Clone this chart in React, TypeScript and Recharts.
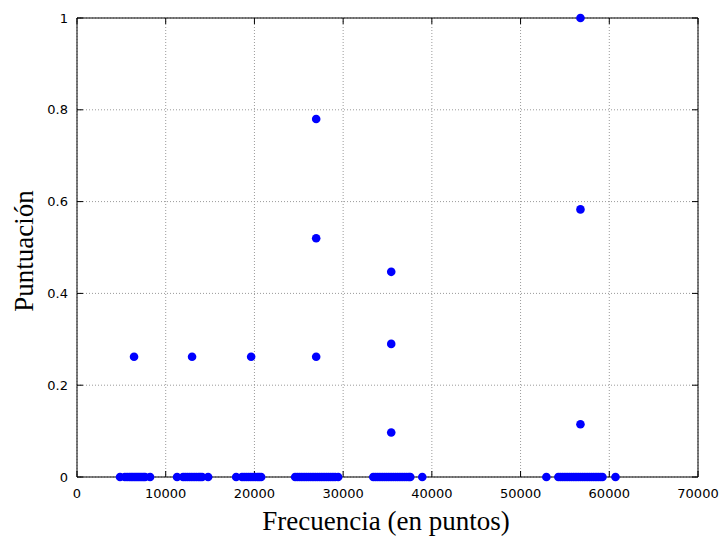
import React from "react";
import { ScatterChart, Scatter, XAxis, YAxis, CartesianGrid } from "recharts";

// frequencies (in points) whose score is 0, grouped by cluster
const zeroCluster1: number[] = [4850, 5400, 5650, 5900, 6100, 6300, 6500, 6700, 6900, 7100, 7300, 7500, 7670, 8240];
const zeroCluster2: number[] = [11280, 11960, 12200, 12450, 12700, 12950, 13200, 13450, 13700, 13900, 14100, 14780];
const zeroCluster3: number[] = [17940, 18600, 18850, 19100, 19350, 19600, 19850, 20100, 20350, 20550, 20760];
const zeroCluster4: number[] = [
  24590, 24850, 25100, 25350, 25600, 25850, 26100, 26350, 26600, 26850, 27100, 27350, 27600, 27850, 28100,
  28350, 28600, 28850, 29100, 29440,
];
const zeroCluster5: number[] = [
  33400, 33650, 33900, 34150, 34400, 34650, 34900, 35150, 35400, 35650, 35900, 36150, 36400, 36650, 36900,
  37150, 37400, 37570, 38920,
];
const zeroCluster6: number[] = [
  52910, 54260, 54500, 54750, 55000, 55250, 55500, 55750, 56000, 56250, 56500, 56750, 57000, 57250, 57500,
  57750, 58000, 58250, 58500, 58750, 59000, 59230, 60700,
];

// points with a non-zero score
const scoredFreq: number[] = [6430, 12970, 19630, 26960, 26960, 26960, 35420, 35420, 35420, 56750, 56750, 56750];
const scoredValue: number[] = [0.262, 0.262, 0.262, 0.78, 0.52, 0.262, 0.447, 0.29, 0.097, 1, 0.583, 0.115];

const xTicks: number[] = [0, 10000, 20000, 30000, 40000, 50000, 60000, 70000];
const yTicks: number[] = [0, 0.2, 0.4, 0.6, 0.8, 1];

const xTitle = "Frecuencia (en puntos)";
const yTitle = "Puntuación";

const zeroFreqs = [
  ...zeroCluster1,
  ...zeroCluster2,
  ...zeroCluster3,
  ...zeroCluster4,
  ...zeroCluster5,
  ...zeroCluster6,
];

const data = [
  ...zeroFreqs.map((f) => ({ freq: f, score: 0 })),
  ...scoredFreq.map((f, i) => ({ freq: f, score: scoredValue[i] })),
];

const tickFont = { fontFamily: "DejaVu Sans", fontSize: 13, fill: "#000" };
const titleFont = "Liberation Serif";

const Dot = (props: any) => <circle cx={props.cx} cy={props.cy} r={4.3} fill="#0000ff" />;
const Nothing = () => <g />;

const App: React.FC = () => {
  return (
    <div style={{ position: "absolute", left: 0, top: 0, width: 724, height: 537, background: "#fff" }}>
      <ScatterChart width={724} height={537} margin={{ top: 16, right: 24, bottom: 0, left: 17 }}>
        <CartesianGrid
          xAxisId="bottom"
          yAxisId="left"
          stroke="#9a9a9a"
          strokeDasharray="1 2"
          horizontalValues={yTicks}
          verticalValues={xTicks}
        />
        <XAxis
          xAxisId="bottom"
          type="number"
          dataKey="freq"
          domain={[0, 70000]}
          ticks={xTicks}
          height={60}
          stroke="#000"
          tickSize={-6}
          tickMargin={18}
          tick={tickFont}
          label={{
            content: () => (
              <text x={386} y={530} textAnchor="middle" fontFamily={titleFont} fontSize={27} fill="#000">
                {xTitle}
              </text>
            ),
          }}
        />
        <XAxis
          xAxisId="top"
          orientation="top"
          type="number"
          dataKey="freq"
          domain={[0, 70000]}
          ticks={xTicks}
          height={2}
          stroke="#000"
          tickSize={-6}
          tickMargin={0}
          tick={Nothing}
        />
        <YAxis
          yAxisId="left"
          type="number"
          dataKey="score"
          domain={[0, 1]}
          ticks={yTicks}
          width={60}
          stroke="#000"
          tickSize={-6}
          tickMargin={15}
          tick={tickFont}
          label={{
            content: () => (
              <text
                x={33}
                y={251}
                textAnchor="middle"
                fontFamily={titleFont}
                fontSize={27}
                fill="#000"
                transform="rotate(-90 33 251)"
              >
                {yTitle}
              </text>
            ),
          }}
        />
        <YAxis
          yAxisId="right"
          orientation="right"
          type="number"
          dataKey="score"
          domain={[0, 1]}
          ticks={yTicks}
          width={2}
          stroke="#000"
          tickSize={-6}
          tickMargin={0}
          tick={Nothing}
        />
        {/* hidden copy so the mirrored top/right axes get drawn */}
        <Scatter data={data} xAxisId="top" yAxisId="right" shape={Nothing} isAnimationActive={false} />
        <Scatter data={data} xAxisId="bottom" yAxisId="left" shape={Dot} isAnimationActive={false} />
      </ScatterChart>
    </div>
  );
};

export default App;
